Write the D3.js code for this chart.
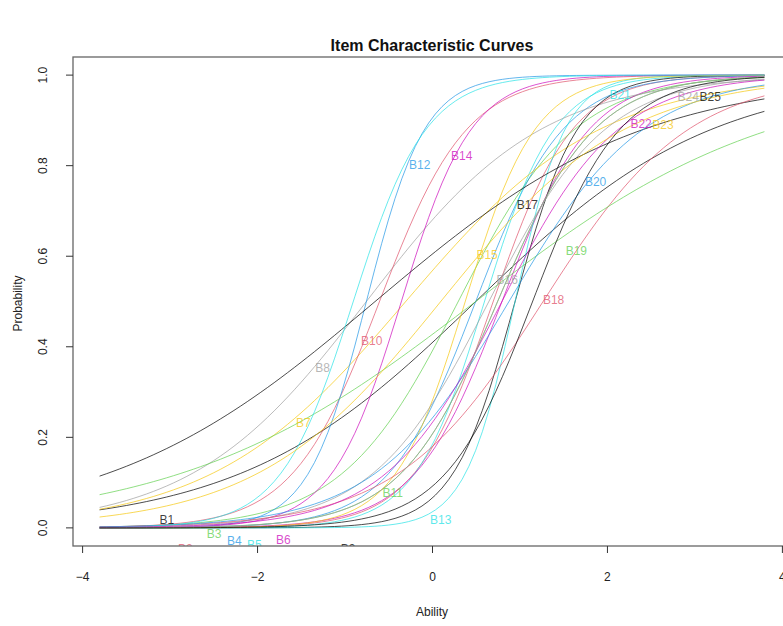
<html>
<head>
    <title>Item Characteristic Curves</title>
    <style>
        body { margin: 0; background: #fff; }
        text { font-family: 'Liberation Sans', Arial, sans-serif; }
    </style>
</head>
<body>
    <div id="icc"></div>
    <script src="https://d3js.org/d3.v7.min.js"></script>
    <script>
        // Itens e parâmetros (modelo logístico de 2 parâmetros)
        const items = ["B1","B2","B3","B4","B5","B6","B7","B8","B9","B10","B11","B12","B13",
                       "B14","B15","B16","B17","B18","B19","B20","B21","B22","B23","B24","B25"];
        const discrimination = [0.74, 2.2, 1.5, 2.0, 2.5, 2.0, 0.9, 1.0, 2.8, 2.0, 1.8, 3.0, 3.5,
                                2.5, 2.5, 1.5, 0.65, 1.2, 0.59, 1.3, 2.4, 1.5, 0.95, 1.8, 2.0];
        const difficulty = [0.5, 0.7, 0.3, 0.5, 0.6, 0.8, -0.3, -0.75, 0.95, -0.6, 0.75, -0.75, 0.95,
                            -0.35, 0.38, 0.65, -0.65, 1.27, 0.5, 0.88, -0.9, 0.8, 0.1, 0.75, 1.15];

        // Posição dos rótulos (em unidades de habilidade / probabilidade)
        const labelX = [-3.03, -2.82, -2.49, -2.26, -2.03, -1.70, -1.47, -1.25, -0.96, -0.69, -0.45, -0.14, 0.10,
                        0.34, 0.63, 0.86, 1.09, 1.39, 1.65, 1.87, 2.15, 2.39, 2.64, 2.93, 3.18];
        const labelY = [0.018, -0.046, -0.013, -0.029, -0.038, -0.026, 0.232, 0.353, -0.046, 0.413, 0.077, 0.801, 0.018,
                        0.821, 0.603, 0.547, 0.713, 0.503, 0.611, 0.764, 0.956, 0.892, 0.890, 0.951, 0.951];

        // Eixos
        const xTicks = [-4, -2, 0, 2, 4];
        const yTicks = [0, 0.2, 0.4, 0.6, 0.8, 1.0];
        const abilityRange = [-3.8, 3.8];

        // Paleta padrão do R 4
        const palette = ["#000000", "#DF536B", "#61D04F", "#2297E6", "#28E2E5", "#CD0BBC", "#F5C710", "#9E9E9E"];

        const W = 783, H = 626;
        const plot = {left: 73, right: 791, top: 57, bottom: 546};

        const svg = d3.select("#icc").append("svg")
            .attr("width", W)
            .attr("height", H);

        const x = d3.scaleLinear().domain([-4.104, 4.104]).range([plot.left, plot.right]);
        const y = d3.scaleLinear().domain([-0.04, 1.04]).range([plot.bottom, plot.top]);

        svg.append("clipPath").attr("id", "clip")
            .append("rect")
            .attr("x", plot.left).attr("y", plot.top)
            .attr("width", plot.right - plot.left).attr("height", plot.bottom - plot.top);

        // Curvas
        const n = 100;
        const theta = d3.range(n).map(i => abilityRange[0] + i * (abilityRange[1] - abilityRange[0]) / (n - 1));
        const icc = (a, b, t) => 1 / (1 + Math.exp(-a * (t - b)));

        const line = d3.line().x(d => x(d[0])).y(d => y(d[1]));

        const g = svg.append("g").attr("clip-path", "url(#clip)");

        items.forEach((name, i) => {
            const pts = theta.map(t => [t, icc(discrimination[i], difficulty[i], t)]);
            g.append("path")
                .attr("d", line(pts))
                .attr("fill", "none")
                .attr("stroke", palette[i % 8])
                .attr("stroke-opacity", 0.7)
                .attr("stroke-width", 1);
        });

        items.forEach((name, i) => {
            g.append("text")
                .attr("x", x(labelX[i]))
                .attr("y", y(labelY[i]))
                .attr("dy", "0.35em")
                .attr("text-anchor", "middle")
                .style("font-size", "12px")
                .style("fill", palette[i % 8])
                .style("fill-opacity", 0.75)
                .text(name);
        });

        // Moldura
        svg.append("rect")
            .attr("x", plot.left).attr("y", plot.top)
            .attr("width", plot.right - plot.left).attr("height", plot.bottom - plot.top)
            .attr("fill", "none")
            .attr("stroke", "#666")
            .attr("stroke-width", 1.3);

        // Eixo X
        const xAxis = svg.append("g")
            .attr("transform", `translate(0,${plot.bottom})`)
            .call(d3.axisBottom(x).tickValues(xTicks).tickSize(7).tickPadding(19).tickFormat(d3.format("d")));
        xAxis.select(".domain").remove();
        xAxis.selectAll("line").attr("stroke", "#333");
        xAxis.selectAll("text").style("font-size", "12px").style("fill", "#222")
            .style("font-family", "'Liberation Sans', Arial, sans-serif");

        // Eixo Y
        const yAxis = svg.append("g")
            .attr("transform", `translate(${plot.left},0)`)
            .call(d3.axisLeft(y).tickValues(yTicks).tickSize(7).tickFormat(d3.format(".1f")));
        yAxis.select(".domain").remove();
        yAxis.selectAll("line").attr("stroke", "#333");
        yAxis.selectAll("text")
            .attr("x", null).attr("dy", null)
            .attr("text-anchor", "middle")
            .attr("transform", d => `translate(-30,${y(d)}) rotate(-90)`)
            .attr("y", 4)
            .style("font-size", "12px").style("fill", "#222")
            .style("font-family", "'Liberation Sans', Arial, sans-serif");
        yAxis.selectAll(".tick").attr("transform", null);
        yAxis.selectAll(".tick line").attr("transform", d => `translate(0,${y(d)})`);

        // Títulos
        svg.append("text")
            .attr("x", 432).attr("y", 51)
            .attr("text-anchor", "middle")
            .style("font-size", "16px")
            .style("font-weight", "bold")
            .style("fill", "#111")
            .text("Item Characteristic Curves");

        svg.append("text")
            .attr("x", 432).attr("y", 616)
            .attr("text-anchor", "middle")
            .style("font-size", "12px")
            .style("fill", "#222")
            .text("Ability");

        svg.append("text")
            .attr("transform", `translate(22,${(plot.top + plot.bottom) / 2 + 2}) rotate(-90)`)
            .attr("text-anchor", "middle")
            .style("font-size", "12px")
            .style("fill", "#222")
            .text("Probability");
    </script>
</body>
</html>
